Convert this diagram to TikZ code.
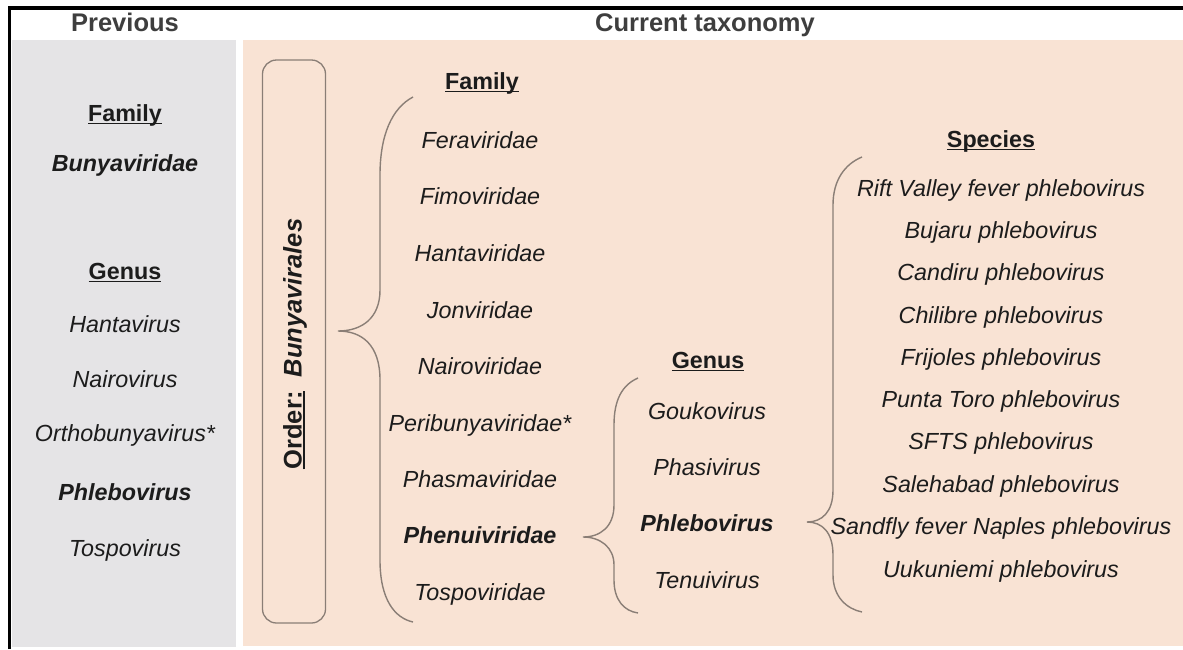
\documentclass[tikz,border=0pt]{standalone}
\usepackage{fontspec}
\setmainfont{Liberation Sans}
\definecolor{peach}{HTML}{F9E3D4}
\definecolor{grayp}{HTML}{E5E4E6}
\definecolor{brc}{HTML}{8A7E76}
\definecolor{txt}{HTML}{1C1C1C}
\newcommand{\ulbox}[1]{\setbox0\hbox{#1}\rlap{\rule[-3.4pt]{\wd0}{1.7pt}}\box0}
\newcommand{\itemsize}{\fontsize{23.3}{28}\selectfont}
\newcommand{\headsize}{\fontsize{25.5}{30}\selectfont}
\tikzset{
  item/.style={font=\itemsize\itshape, text=txt, inner sep=0pt, anchor=base},
  bitem/.style={font=\itemsize\bfseries\itshape, text=txt, inner sep=0pt, anchor=base},
  head/.style={font=\itemsize\bfseries, text=txt, inner sep=0pt, anchor=base},
  title/.style={font=\headsize\bfseries, text=txt!85!white, inner sep=0pt, anchor=base},
  brace/.style={draw=brc, line width=1.4pt},
}
\begin{document}
\begin{tikzpicture}[x=1pt,y=1pt]
\useasboundingbox (0,0) rectangle (1183,-649);
\fill[white] (0,0) rectangle (1183,-649);
\fill[grayp] (12,-40) rectangle (236,-647);
\fill[peach] (243,-40) rectangle (1183,-646);
\draw[line width=3.5pt] (9.5,-649) -- (9.5,-8) -- (1183,-8);

% titles
\node[title] (tprev) at (125,-31) {Previous};
\node[title] (tcur) at (705,-31) {Current taxonomy};

% previous panel
\node[head] (pfam) at (125,-121) {\ulbox{Family}};
\node[bitem] (pbun) at (125,-171) {Bunyaviridae};
\node[head] (pgen) at (125,-279) {\ulbox{Genus}};
\node[item] (p1) at (125,-332) {Hantavirus};
\node[item] (p2) at (125,-387) {Nairovirus};
\node[item] (p3) at (125,-441) {Orthobunyavirus*};
\node[bitem] (p4) at (125,-500) {Phlebovirus};
\node[item] (p5) at (125,-556) {Tospovirus};

% order box
\node[draw=brc, line width=1.3pt, rounded corners=14pt, minimum width=63, minimum height=563, inner sep=0pt] (obox) at (294,-341.5) {};
\node[rotate=90, font=\fontsize{25.5}{30}\selectfont\bfseries, text=txt, inner sep=0pt] (otext) at (295,-344) {\ulbox{Order:}\hspace{0.55em}\textit{Bunyavirales}};

% family column
\node[head] (ffam) at (482,-89) {\ulbox{Family}};
\node[item] (f1) at (480,-148) {Feraviridae};
\node[item] (f2) at (480,-204) {Fimoviridae};
\node[item] (f3) at (480,-261) {Hantaviridae};
\node[item] (f4) at (480,-318) {Jonviridae};
\node[item] (f5) at (480,-374) {Nairoviridae};
\node[item] (f6) at (480,-431) {Peribunyaviridae*};
\node[item] (f7) at (480,-487) {Phasmaviridae};
\node[bitem] (f8) at (480,-543) {Phenuiviridae};
\node[item] (f9) at (480,-600) {Tospoviridae};

% genus column
\node[head] (ggen) at (708,-368) {\ulbox{Genus}};
\node[item] (g1) at (707,-419) {Goukovirus};
\node[item] (g2) at (707,-475) {Phasivirus};
\node[bitem] (g3) at (707,-531) {Phlebovirus};
\node[item] (g4) at (707,-588) {Tenuivirus};

% species column
\node[head] (sspe) at (991,-147) {\ulbox{Species}};
\node[item] (s1) at (1001,-196) {Rift Valley fever phlebovirus};
\node[item] (s2) at (1001,-238) {Bujaru phlebovirus};
\node[item] (s3) at (1001,-280) {Candiru phlebovirus};
\node[item] (s4) at (1001,-323) {Chilibre phlebovirus};
\node[item] (s5) at (1001,-365) {Frijoles phlebovirus};
\node[item] (s6) at (1001,-407) {Punta Toro phlebovirus};
\node[item] (s7) at (1001,-449) {SFTS phlebovirus};
\node[item] (s8) at (1001,-492) {Salehabad phlebovirus};
\node[item] (s9) at (1001,-534) {Sandfly fever Naples phlebovirus};
\node[item] (s10) at (1001,-577) {Uukuniemi phlebovirus};

% brace coordinates
\coordinate (fbT) at (413,-97);
\coordinate (fbTip) at (338,-331);
\coordinate (fbB) at (413,-622);
\coordinate (gbT) at (638,-378);
\coordinate (gbTip) at (583,-537);
\coordinate (gbB) at (638,-613);
\coordinate (sbT) at (862,-157);
\coordinate (sbTip) at (807,-522);
\coordinate (sbB) at (862,-612);

% family brace
\draw[brace] (fbT) .. controls (392,-108) and (380,-135) .. (380,-175)
  -- (380,-290) .. controls (380,-318) and (362,-331) .. (fbTip)
  (fbTip) .. controls (362,-331) and (380,-345) .. (380,-380)
  -- (380,-560) .. controls (380,-600) and (395,-618) .. (fbB);
% genus brace
\draw[brace] (gbT) .. controls (622,-385) and (614,-400) .. (614,-425)
  -- (614,-505) .. controls (614,-527) and (600,-537) .. (gbTip)
  (gbTip) .. controls (600,-537) and (614,-547) .. (614,-565)
  -- (614,-580) .. controls (614,-600) and (624,-611) .. (gbB);
% species brace
\draw[brace] (sbT) .. controls (845,-164) and (833,-180) .. (833,-205)
  -- (833,-490) .. controls (833,-512) and (822,-522) .. (sbTip)
  (sbTip) .. controls (822,-522) and (833,-532) .. (833,-555)
  -- (833,-575) .. controls (833,-597) and (847,-609) .. (sbB);
\end{tikzpicture}
\end{document}
